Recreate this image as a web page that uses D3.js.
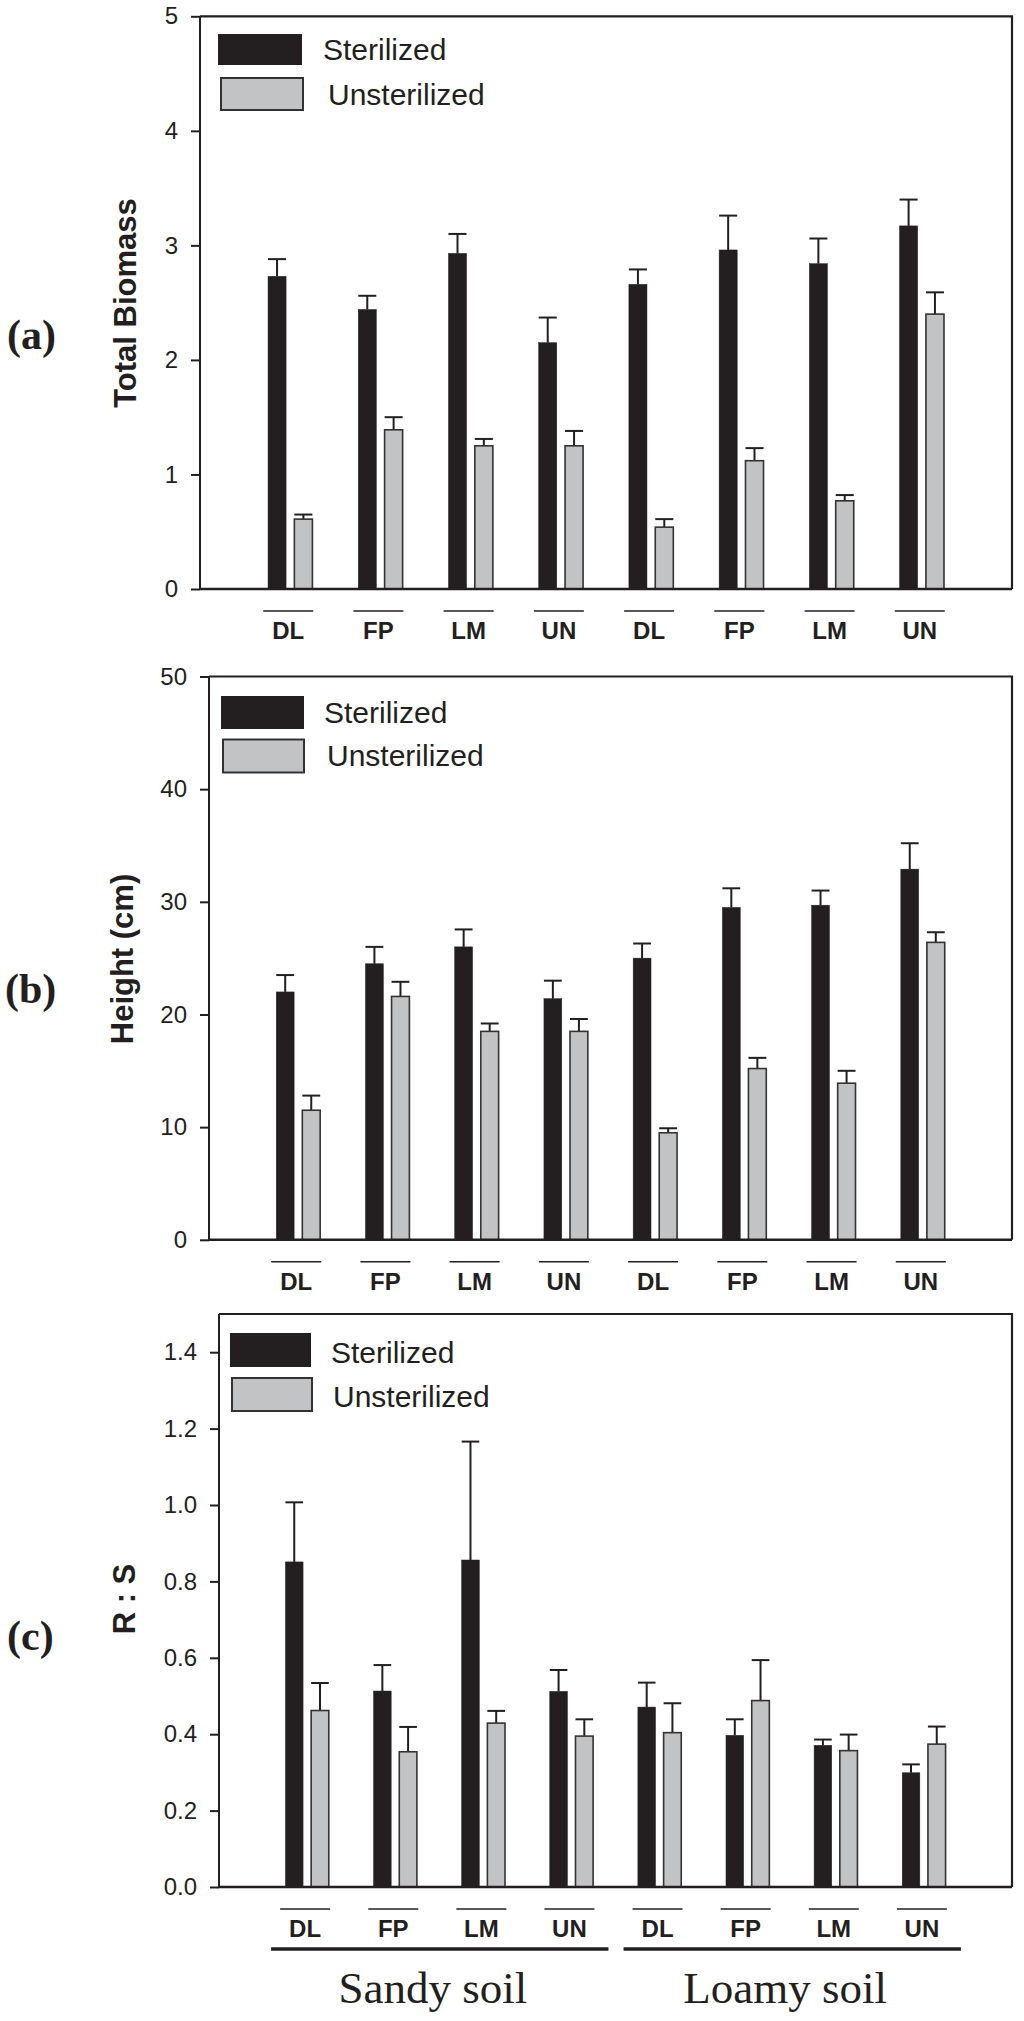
<!DOCTYPE html>
<html>
<head>
<meta charset="utf-8">
<script src="https://cdn.jsdelivr.net/npm/d3@7"></script>
<style>
  html, body { margin: 0; padding: 0; background: #fff; }
  svg { display: block; }
  text { fill: #231f20; }
</style>
</head>
<body>
<script>
// ---------------- DATA ----------------
const categories = ["DL", "FP", "LM", "UN", "DL", "FP", "LM", "UN"];
const soils = ["Sandy soil", "Loamy soil"];
const series = ["Sterilized", "Unsterilized"];

// (a) Total Biomass
const biomassSterilized     = [2.73, 2.44, 2.93, 2.15, 2.66, 2.96, 2.84, 3.17];
const biomassSterilizedErr  = [0.15, 0.12, 0.17, 0.22, 0.13, 0.30, 0.22, 0.23];
const biomassUnsterilized   = [0.61, 1.39, 1.25, 1.25, 0.54, 1.12, 0.77, 2.40];
const biomassUnsterilizedErr= [0.04, 0.11, 0.06, 0.13, 0.07, 0.11, 0.05, 0.19];
const biomassTicks = [0, 1, 2, 3, 4, 5];

// (b) Height (cm)
const heightSterilized      = [22.0, 24.5, 26.0, 21.4, 25.0, 29.5, 29.7, 32.9];
const heightSterilizedErr   = [1.5, 1.5, 1.55, 1.6, 1.3, 1.7, 1.3, 2.3];
const heightUnsterilized    = [11.5, 21.6, 18.5, 18.5, 9.5, 15.2, 13.9, 26.4];
const heightUnsterilizedErr = [1.3, 1.3, 0.7, 1.1, 0.4, 0.95, 1.1, 0.9];
const heightTicks = [0, 10, 20, 30, 40, 50];

// (c) R : S
const rsSterilized      = [0.851, 0.513, 0.856, 0.512, 0.471, 0.397, 0.371, 0.299];
const rsSterilizedErr   = [0.156, 0.068, 0.310, 0.056, 0.064, 0.042, 0.015, 0.022];
const rsUnsterilized    = [0.462, 0.354, 0.429, 0.395, 0.404, 0.488, 0.357, 0.374];
const rsUnsterilizedErr = [0.072, 0.065, 0.032, 0.044, 0.077, 0.106, 0.042, 0.046];
const rsTicks = [0, 0.2, 0.4, 0.6, 0.8, 1.0, 1.2, 1.4];

// ---------------- LAYOUT ----------------
const W = 1024, H = 2021;
const INK = "#231f20", GRAY = "#c2c3c5";
const SANS = "'Liberation Sans', Arial, Helvetica, sans-serif";
const SERIF = "'Liberation Serif', 'Times New Roman', serif";

const panels = [
  { tag: "(a)", title: "Total Biomass", st: biomassSterilized, stE: biomassSterilizedErr,
    un: biomassUnsterilized, unE: biomassUnsterilizedErr, ticks: biomassTicks, fmt: d3.format("d"),
    max: 5, left: 200, right: 1012, top: 16.3, bottom: 589,
    legend: { bx: 218, by: 34, bw: 84, bh: 31, gx: 221, gy: 78, gw: 82, gh: 32, tx1: 323, ty1: 60, tx2: 328, ty2: 105 },
    titleX: 136, titleY: 303, tagX: 7, tagY: 349 },
  { tag: "(b)", title: "Height (cm)", st: heightSterilized, stE: heightSterilizedErr,
    un: heightUnsterilized, unE: heightUnsterilizedErr, ticks: heightTicks, fmt: d3.format("d"),
    max: 50, left: 209, right: 1012, top: 676.5, bottom: 1239.8,
    legend: { bx: 221, by: 696, bw: 83, bh: 33, gx: 223, gy: 739.5, gw: 81, gh: 33, tx1: 324, ty1: 723, tx2: 327, ty2: 766 },
    titleX: 133, titleY: 959, tagX: 5, tagY: 1003 },
  { tag: "(c)", title: "R : S", st: rsSterilized, stE: rsSterilizedErr,
    un: rsUnsterilized, unE: rsUnsterilizedErr, ticks: rsTicks, fmt: d3.format(".1f"),
    max: 1.5, left: 219, right: 1012, top: 1314, bottom: 1887,
    legend: { bx: 230, by: 1333, bw: 81, bh: 34, gx: 232, gy: 1378, gw: 80, gh: 33, tx1: 331, ty1: 1363, tx2: 333, ty2: 1407 },
    titleX: 135, titleY: 1599, tagX: 7, tagY: 1650 }
];

const svg = d3.select("body").append("svg").attr("width", W).attr("height", H);
svg.append("rect").attr("width", W).attr("height", H).attr("fill", "#fff");

const ids = categories.map((c, i) => i + "-" + c);

panels.forEach((p, pi) => {
  const g = svg.append("g");
  const slot = (p.right - p.left) / 9;
  const x = d3.scaleBand().domain(ids).range([p.left + slot / 2, p.right - slot / 2]).padding(0);
  const y = d3.scaleLinear().domain([0, p.max]).range([p.bottom, p.top]);
  const bw = slot * 0.2;
  const off = slot * 0.146;
  const xc = id => x(id) + x.bandwidth() / 2;

  const rows = ids.map((id, i) => ({ id, i, st: p.st[i], stE: p.stE[i], un: p.un[i], unE: p.unE[i] }));

  // bars
  const bars = [];
  rows.forEach(r => {
    bars.push({ id: r.id, s: 0, v: r.st, e: r.stE, cx: xc(r.id) - off });
    bars.push({ id: r.id, s: 1, v: r.un, e: r.unE, cx: xc(r.id) + off });
  });

  // error bars (drawn first, behind bars)
  const eg = g.append("g").attr("stroke", INK).attr("stroke-width", 2);
  eg.selectAll("line.v").data(bars).join("line")
    .attr("x1", d => d.cx).attr("x2", d => d.cx)
    .attr("y1", d => y(d.v)).attr("y2", d => y(d.v + d.e));
  eg.selectAll("line.c").data(bars).join("line")
    .attr("x1", d => d.cx - bw / 2).attr("x2", d => d.cx + bw / 2)
    .attr("y1", d => y(d.v + d.e)).attr("y2", d => y(d.v + d.e));

  g.append("g").selectAll("rect").data(bars).join("rect")
    .attr("x", d => d.cx - bw / 2)
    .attr("width", bw)
    .attr("y", d => y(d.v))
    .attr("height", d => y(0) - y(d.v))
    .attr("fill", d => d.s === 0 ? INK : GRAY)
    .attr("stroke", d => d.s === 0 ? INK : "#333")
    .attr("stroke-width", d => d.s === 0 ? 0.5 : 1.6);

  // frame (top & right)
  g.append("path")
    .attr("d", `M${p.left},${p.top}H${p.right}V${p.bottom}`)
    .attr("fill", "none").attr("stroke", INK).attr("stroke-width", 2.2);
  // bottom line
  g.append("line").attr("x1", p.left).attr("x2", p.right).attr("y1", p.bottom).attr("y2", p.bottom)
    .attr("stroke", INK).attr("stroke-width", 2.6);

  // y axis
  const ya = g.append("g").attr("transform", `translate(${p.left},0)`)
    .call(d3.axisLeft(y).tickValues(p.ticks).tickFormat(p.fmt).tickSize(9).tickSizeOuter(0).tickPadding(13));
  ya.select(".domain").attr("stroke", INK).attr("stroke-width", 2).attr("d", `M0,${p.bottom}V${p.top}`);
  ya.selectAll(".tick line").attr("stroke", INK).attr("stroke-width", 2);
  ya.selectAll(".tick text").attr("fill", INK).style("font-family", SANS).style("font-size", "24px");

  // category labels with short overlines
  const cg = g.append("g");
  cg.selectAll("line").data(rows).join("line")
    .attr("x1", d => xc(d.id) - 27).attr("x2", d => xc(d.id) + 23)
    .attr("y1", p.bottom + 22).attr("y2", p.bottom + 22)
    .attr("stroke", INK).attr("stroke-width", 1.6);
  cg.selectAll("text").data(rows).join("text")
    .attr("x", d => xc(d.id) - 2).attr("y", p.bottom + 50)
    .attr("text-anchor", "middle")
    .style("font-family", SANS).style("font-weight", "bold").style("font-size", "24px")
    .text(d => categories[d.i]);

  // axis title
  g.append("text")
    .attr("transform", `translate(${p.titleX},${p.titleY}) rotate(-90)`)
    .attr("text-anchor", "middle")
    .style("font-family", SANS).style("font-weight", "bold").style("font-size", "31px")
    .text(p.title);

  // panel tag
  g.append("text").attr("x", p.tagX).attr("y", p.tagY)
    .style("font-family", SERIF).style("font-weight", "bold").style("font-size", "42px")
    .text(p.tag);

  // legend
  const L = p.legend;
  g.append("rect").attr("x", L.bx).attr("y", L.by).attr("width", L.bw).attr("height", L.bh).attr("fill", INK);
  g.append("rect").attr("x", L.gx).attr("y", L.gy).attr("width", L.gw).attr("height", L.gh)
    .attr("fill", GRAY).attr("stroke", "#333").attr("stroke-width", 2);
  g.append("text").attr("x", L.tx1).attr("y", L.ty1)
    .style("font-family", SANS).style("font-size", "30px").text(series[0]);
  g.append("text").attr("x", L.tx2).attr("y", L.ty2)
    .style("font-family", SANS).style("font-size", "30px").text(series[1]);

  // soil grouping (bottom panel only)
  if (pi === 2) {
    const sg = g.append("g");
    soils.forEach((s, si) => {
      const a = ids[si * 4], b = ids[si * 4 + 3];
      const x1 = xc(a) - 36, x2 = xc(b) + 37;
      sg.append("line").attr("x1", x1).attr("x2", x2)
        .attr("y1", p.bottom + 62).attr("y2", p.bottom + 62)
        .attr("stroke", INK).attr("stroke-width", 3.5);
      sg.append("text").attr("x", (x1 + x2) / 2 - 7).attr("y", p.bottom + 116)
        .attr("text-anchor", "middle")
        .style("font-family", SERIF).style("font-size", "45px")
        .text(s);
    });
  }
});
</script>
</body>
</html>
